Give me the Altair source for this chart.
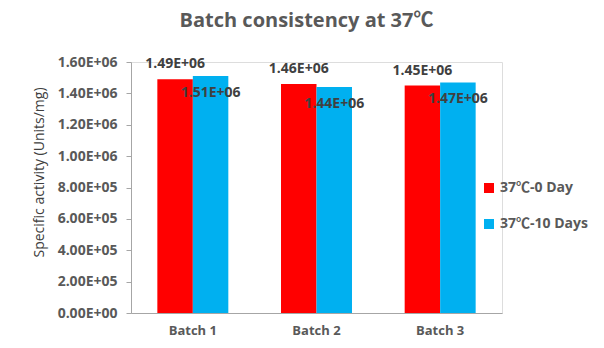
import altair as alt
import pandas as pd

batches = ["Batch 1", "Batch 2", "Batch 3"]
series = ["37℃-0 Day", "37℃-10 Days"]
day0 = [1.49e6, 1.46e6, 1.45e6]
day10 = [1.51e6, 1.44e6, 1.47e6]
colors = ["#FF0000", "#00B0F0"]
y_ticks = [0, 2e5, 4e5, 6e5, 8e5, 1.0e6, 1.2e6, 1.4e6, 1.6e6]

rows = []
for b, v0, v10 in zip(batches, day0, day10):
    rows.append({"batch": b, "series": series[0], "value": v0, "label": f"{v0:.2E}"})
    rows.append({"batch": b, "series": series[1], "value": v10, "label": f"{v10:.2E}"})
df = pd.DataFrame(rows)

FONT = "Open Sans, Noto Sans CJK SC, sans-serif"
GRAY = "#595959"

x = alt.X(
    "batch:N", sort=batches,
    scale=alt.Scale(paddingInner=0.426, paddingOuter=0.213),
    axis=alt.Axis(title=None, labelAngle=0, ticks=False, domainColor="#A6A6A6",
                  labelFont=FONT, labelFontSize=13, labelFontWeight="bold",
                  labelColor=GRAY, labelPadding=11),
)
xo = alt.XOffset("series:N", sort=series, scale=alt.Scale(paddingInner=0, paddingOuter=0))
y = alt.Y(
    "value:Q",
    scale=alt.Scale(domain=[0, 1.6e6], nice=False),
    axis=alt.Axis(values=y_ticks,
                  labelExpr="replace(upper(format(datum.value, '.2e')), 'E+', 'E+0')",
                  title="Specific activity (Units/mg)", grid=False,
                  domainColor="#A6A6A6", tickColor="#A6A6A6", tickSize=5,
                  labelFont=FONT, labelFontSize=14, labelFontWeight="bold",
                  labelColor=GRAY, labelPadding=9,
                  titleFont=FONT, titleFontSize=14, titleFontWeight="normal",
                  titleColor="#404040", titleX=-92, titleY=110, titleAngle=270,
                  titleBaseline="middle", titleAlign="center"),
)
color = alt.Color(
    "series:N", sort=series,
    scale=alt.Scale(domain=series, range=colors),
    legend=alt.Legend(title=None, orient="none", legendX=351, legendY=119,
                      symbolType="square", symbolSize=100, symbolStrokeWidth=0,
                      labelFont=FONT, labelFontSize=14, labelFontWeight="bold",
                      labelColor=GRAY, rowPadding=22, labelOffset=4),
)

base = alt.Chart(df)
bars = base.mark_bar(stroke=None).encode(x=x, xOffset=xo, y=y, color=color)
lab0 = base.transform_filter(alt.datum.series == series[0]).mark_text(
    font=FONT, fontSize=14, fontWeight="bold", color="#404040", baseline="middle", dy=-15
).encode(x=x, xOffset=xo, y=y, text="label:N")
lab1 = base.transform_filter(alt.datum.series == series[1]).mark_text(
    font=FONT, fontSize=14, fontWeight="bold", color="#404040", baseline="middle", dy=17
).encode(x=x, xOffset=xo, y=y, text="label:N")

chart = alt.layer(bars, lab0, lab1).properties(
    width=371, height=251,
    autosize="none",
    padding={"left": 131, "top": 62, "right": 102, "bottom": 35},
    title=alt.Title("Batch consistency at 37℃", font=FONT, fontSize=20,
                    fontWeight="bold", color=GRAY, anchor="middle", dx=-10, offset=24),
).configure_view(stroke=None).configure(background="white")

chart.save("out.html", embed_options={"renderer": "svg", "actions": False})
